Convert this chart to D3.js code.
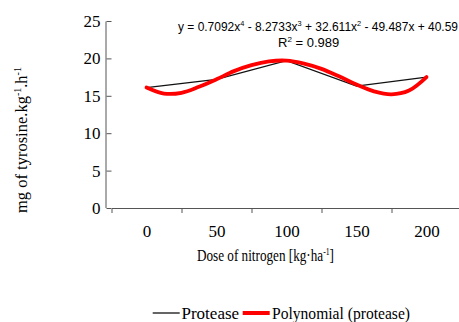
<!DOCTYPE html>
<html>
<head>
<meta charset="utf-8">
<script src="https://cdn.jsdelivr.net/npm/d3@7"></script>
<style>
body { margin: 0; background: #fff; }
.axis text { font-family: "Liberation Serif", "DejaVu Serif", serif; font-size: 17px; fill: #000; }
.axis path, .axis line { stroke: #555; }
</style>
</head>
<body>
<script>
var doses = [0, 50, 100, 150, 200];
var protease = [16.1, 17.2, 19.7, 16.3, 17.5];
// trendline points, every 12.5 kg/ha
var trendDoses = [0, 12.5, 25, 37.5, 50, 62.5, 75, 87.5, 100, 112.5, 125, 137.5, 150, 162.5, 175, 187.5, 200];
var trendValues = [16.1, 15.3, 15.4, 16.2, 17.2, 18.3, 19.1, 19.6, 19.7, 19.3, 18.6, 17.6, 16.5, 15.6, 15.2, 15.7, 17.5];
var yTicks = [0, 5, 10, 15, 20, 25];
var boundaries = [25, 75, 125, 175, 225];
var legendLabels = ['Protease', 'Polynomial (protease)'];
var legendColors = ['#111', '#ff0000'];

var margin = {top: 21, right: 0, bottom: 114, left: 111.5}
, width = 350
, height = 322 - margin.top - margin.bottom;

var x = d3.scaleLinear()
    .domain([-25, 225])
    .range([0, width]);

var y = d3.scaleLinear()
    .domain([0, 25])
    .range([height, 0]);

var chart = d3.select('body')
    .append('svg')
    .attr('width', 459)
    .attr('height', 322)
    .style('display', 'block');

var main = chart.append('g')
    .attr('transform', 'translate(' + margin.left + ',' + margin.top + ')');

var yAxis = d3.axisLeft(y).tickValues(yTicks).tickSize(5).tickPadding(6);
main.append('g').attr('class', 'axis').call(yAxis);

// tick marks sit between the categories, labels in the middle
var xTickAxis = d3.axisBottom(x).tickValues(boundaries).tickSize(5).tickFormat('');
main.append('g').attr('class', 'axis').attr('transform', 'translate(0,' + height + ')').call(xTickAxis);
main.append('g').attr('class', 'axis xlab')
    .attr('transform', 'translate(0,' + height + ')')
    .call(d3.axisBottom(x).tickValues(doses).tickSize(0).tickPadding(17))
    .call(function (g) { g.select('.domain').remove(); });
main.select('.axis path.domain').attr('d', 'M-5.5,' + height + 'V0.5');

var serif = '"Liberation Serif", "DejaVu Serif", serif';
var sans = '"Liberation Sans Narrow", "Liberation Sans", Arial, sans-serif';

var line = d3.line()
    .x(function (d) { return x(d[0]); })
    .y(function (d) { return y(d[1]); });

main.append('path')
    .datum(d3.zip(doses, protease))
    .attr('fill', 'none')
    .attr('stroke', '#111')
    .attr('stroke-width', 1.3)
    .attr('d', line);

main.append('path')
    .datum(d3.zip(trendDoses, trendValues))
    .attr('fill', 'none')
    .attr('stroke', '#ff0000')
    .attr('stroke-width', 3.8)
    .attr('stroke-linecap', 'round')
    .attr('d', line.curve(d3.curveCatmullRom));

// writes text with superscripts: parts alternate normal / superscript
function richText(sel, parts, supSize, rise) {
    parts.forEach(function (p, i) {
        var t = sel.append('tspan').text(p);
        if (i % 2 === 1) t.attr('dy', -rise).style('font-size', supSize);
        else if (i > 0) t.attr('dy', rise);
    });
}

// equation
var eq = chart.append('text')
    .attr('x', 178).attr('y', 30.5)
    .style('font-family', sans).style('font-size', '13px')
    .attr('textLength', 280).attr('lengthAdjust', 'spacingAndGlyphs');
richText(eq, ['y = 0.7092x', '4', ' - 8.2733x', '3', ' + 32.611x', '2', ' - 49.487x + 40.59'], '8px', 5);

var r2 = chart.append('text')
    .attr('x', 278).attr('y', 46.5)
    .style('font-family', sans).style('font-size', '13px');
richText(r2, ['R', '2', ' = 0.989'], '8px', 5);

// y title
var yt = chart.append('text')
    .attr('transform', 'translate(27,140) rotate(-90)')
    .attr('text-anchor', 'middle')
    .style('font-family', serif).style('font-size', '16.5px');
richText(yt, ['mg of tyrosine.kg', '-1', '.h', '-1'], '10px', 6);

// x title
var xt = chart.append('text')
    .attr('x', 197).attr('y', 261)
    .style('font-family', serif).style('font-size', '17px')
    .attr('textLength', 137).attr('lengthAdjust', 'spacingAndGlyphs');
richText(xt, ['Dose of nitrogen [kg·ha', '-1', ']'], '10px', 6);

// legend
var legend = chart.append('g');
var lx = [152.7, 242.7], lw = [1.3, 4], tx = [181.5, 272];
legendLabels.forEach(function (label, i) {
    legend.append('line')
        .attr('x1', lx[i]).attr('x2', lx[i] + 27)
        .attr('y1', 313).attr('y2', 313)
        .attr('stroke', legendColors[i]).attr('stroke-width', lw[i]);
});
legend.append('text')
    .attr('x', tx[0]).attr('y', 319)
    .style('font-family', serif).style('font-size', '17px')
    .text(legendLabels[0]);
legend.append('text')
    .attr('x', tx[1]).attr('y', 319)
    .style('font-family', serif).style('font-size', '17px')
    .attr('textLength', 138).attr('lengthAdjust', 'spacingAndGlyphs')
    .text(legendLabels[1]);
</script>
</body>
</html>
